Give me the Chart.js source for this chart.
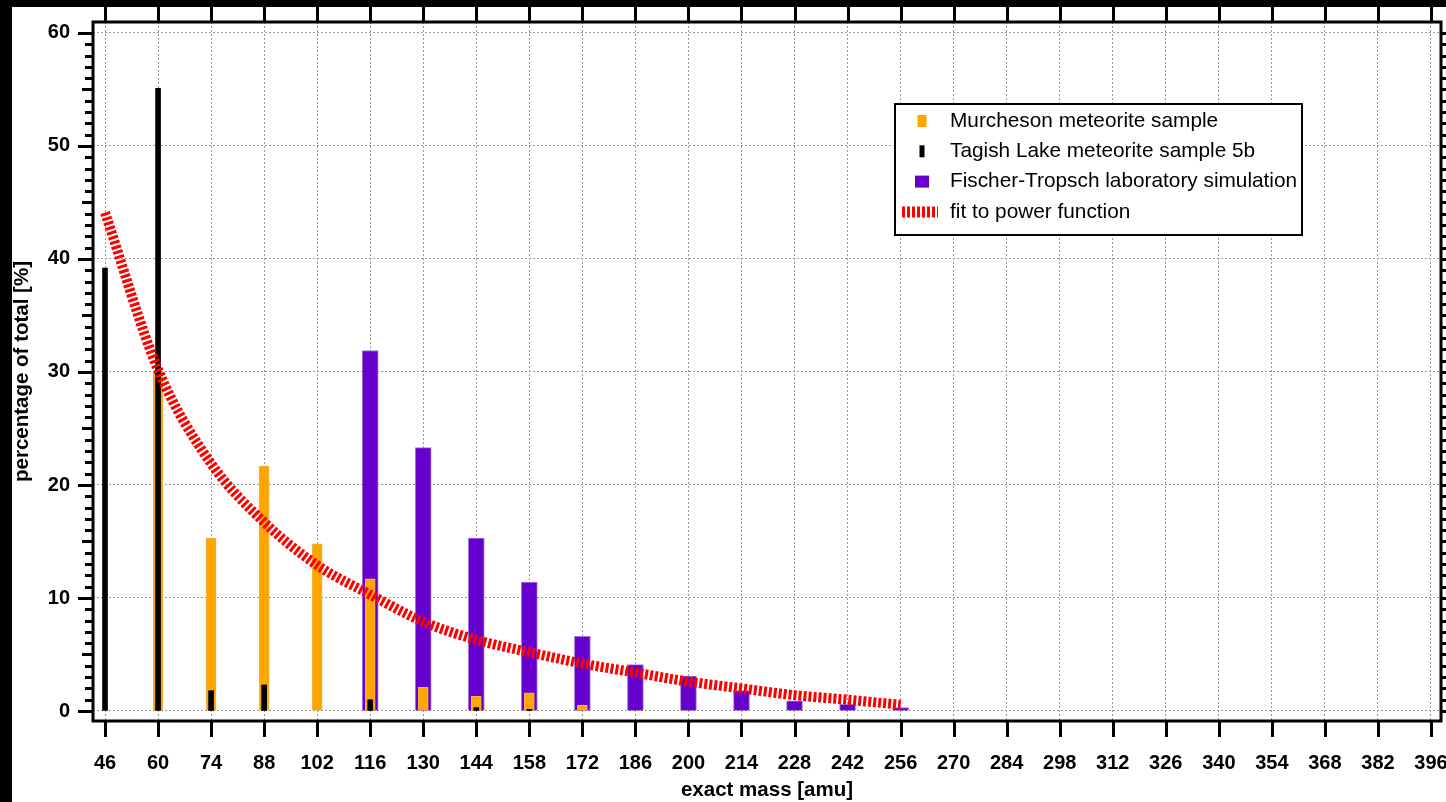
<!DOCTYPE html>
<html>
<head>
<meta charset="utf-8">
<script src="https://cdn.jsdelivr.net/npm/chart.js@4.4.1/dist/chart.umd.min.js"></script>
<style>
  html, body { margin: 0; padding: 0; background: #000; overflow: hidden; }
  #wrap { position: absolute; left: 12px; top: 7px; width: 1434px; height: 795px; background: #fff; }
</style>
</head>
<body>
<div id="wrap"><canvas id="mass-chart-canvas"></canvas></div>
<script>
// tick labels on the mass axis
const massTicks = [46, 60, 74, 88, 102, 116, 130, 144, 158, 172, 186, 200, 214, 228,
  242, 256, 270, 284, 298, 312, 326, 340, 354, 368, 382, 396];
const percentTicks = [0, 10, 20, 30, 40, 50, 60];

// categories (exact mass) that carry data
const masses = [46, 60, 74, 88, 102, 116, 130, 144, 158, 172, 186, 200, 214, 228, 242, 256];

const murchesonValues = [null, 30.0, 15.3, 21.7, 14.8, 11.7, 2.1, 1.3, 1.6, 0.5, null, null, null, null, null, null];
const tagishValues = [39.2, 55.1, 1.8, 2.3, null, 1.0, null, 0.3, 0.15, null, null, null, null, null, null, null];
const fischerValues = [null, null, null, null, null, 31.9, 23.3, 15.3, 11.4, 6.6, 4.1, 3.1, 1.8, 0.9, 0.6, 0.3];
const fitValues = [44.1, 30.2, 21.9, 16.7, 12.9, 10.3, 7.9, 6.3, 5.2, 4.2, 3.4, 2.6, 2.0, 1.4, 1.0, 0.55];

document.addEventListener("DOMContentLoaded", main);

function main() {
  drawMassChart();
}

function toPoints(values) {
  return masses.map((m, i) => ({ x: m, y: values[i] }));
}

// frame, tick marks on all four sides and the boxed legend
const frameAndLegend = {
  id: "frameAndLegend",
  afterDraw(chart) {
    const ctx = chart.ctx;
    const area = chart.chartArea;
    const xs = chart.scales.x;
    const ys = chart.scales.y;
    ctx.save();
    ctx.strokeStyle = "#000";
    ctx.lineWidth = 3;
    ctx.beginPath();
    massTicks.forEach((v) => {
      const px = Math.round(xs.getPixelForValue(v)) + 0.5;
      ctx.moveTo(px, area.bottom);
      ctx.lineTo(px, area.bottom + 16);
      ctx.moveTo(px, area.top);
      ctx.lineTo(px, area.top - 16);
    });
    for (let v = 0; v <= 60; v++) {
      const py = Math.round(ys.getPixelForValue(v)) + 0.5;
      const len = v % 10 === 0 ? 15 : v % 5 === 0 ? 11 : 8;
      ctx.moveTo(area.left, py);
      ctx.lineTo(area.left - len, py);
      ctx.moveTo(area.right, py);
      ctx.lineTo(area.right + len, py);
    }
    ctx.stroke();
    ctx.strokeRect(area.left, area.top, area.right - area.left, area.bottom - area.top);

    // legend box
    const bx = 883, by = 97, bw = 407, bh = 131;
    ctx.fillStyle = "#fff";
    ctx.fillRect(bx, by, bw, bh);
    ctx.lineWidth = 2;
    ctx.strokeRect(bx, by, bw, bh);
    const markerWidths = [9, 5, 14];
    ctx.font = "20.8px Arial, 'Liberation Sans', sans-serif";
    ctx.textBaseline = "middle";
    chart.data.datasets.forEach((ds, i) => {
      const cy = by + 17 + i * 30.3;
      if (ds.type === "line") {
        ctx.strokeStyle = ds.borderColor;
        ctx.lineWidth = 11;
        ctx.setLineDash([3, 2]);
        ctx.beginPath();
        ctx.moveTo(890, cy);
        ctx.lineTo(926, cy);
        ctx.stroke();
        ctx.setLineDash([]);
      } else {
        const w = markerWidths[i];
        ctx.fillStyle = ds.backgroundColor;
        ctx.fillRect(910 - w / 2, cy - 6, w, 12);
      }
      ctx.fillStyle = "#000";
      ctx.fillText(ds.label, 938, cy);
    });
    ctx.restore();
  },
};

function noLabelPadding(scale) {
  scale.paddingTop = 0;
  scale.paddingBottom = 0;
  scale.paddingLeft = 0;
  scale.paddingRight = 0;
}

function drawMassChart() {
  const ctx = document.getElementById("mass-chart-canvas").getContext("2d");
  const axisFont = { family: "Arial, 'Liberation Sans', sans-serif", size: 20, weight: "bold" };
  const titleFont = { family: "Arial, 'Liberation Sans', sans-serif", size: 20.5, weight: "bold", lineHeight: 1 };

  new Chart(ctx, {
    type: "bar",
    data: {
      datasets: [
        {
          label: "Murcheson meteorite sample",
          data: toPoints(murchesonValues),
          backgroundColor: "#FFA500",
          borderColor: "#F2B24A",
          borderWidth: 1,
          barThickness: 10,
          grouped: false,
          order: 2,
        },
        {
          label: "Tagish Lake meteorite sample 5b",
          data: toPoints(tagishValues),
          backgroundColor: "#000000",
          barThickness: 5,
          grouped: false,
          order: 1,
        },
        {
          label: "Fischer-Tropsch laboratory simulation",
          data: toPoints(fischerValues),
          backgroundColor: "#6600CC",
          borderColor: "#A27BE0",
          borderWidth: 1,
          barThickness: 16,
          grouped: false,
          order: 3,
        },
        {
          type: "line",
          label: "fit to power function",
          data: toPoints(fitValues),
          borderColor: "#FF0000",
          borderWidth: 10,
          borderDash: [3, 2],
          borderCapStyle: "butt",
          pointRadius: 0,
          cubicInterpolationMode: "monotone",
          fill: false,
          order: 0,
        },
      ],
    },
    options: {
      responsive: true,
      maintainAspectRatio: false,
      animation: false,
      layout: { padding: { top: 15, right: 5, left: 0, bottom: 0 } },
      plugins: {
        legend: { display: false },
        tooltip: { enabled: false },
      },
      scales: {
        x: {
          type: "linear",
          offset: false,
          min: 42.83,
          max: 398.64,
          afterBuildTicks: (scale) => {
            scale.ticks = massTicks.map((v) => ({ value: v }));
          },
          afterFit: (scale) => {
            scale.height = 81;
            noLabelPadding(scale);
          },
          grid: { color: "#9a9a9a", lineWidth: 1, drawTicks: false, offset: false },
          border: { display: false, dash: [2, 2] },
          ticks: { color: "#000", font: axisFont, padding: 30, autoSkip: false, maxRotation: 0 },
          title: {
            display: true,
            text: "exact mass [amu]",
            color: "#000",
            font: titleFont,
            padding: { top: 0, bottom: 1.5 },
          },
        },
        y: {
          min: -0.885,
          max: 60.97,
          afterBuildTicks: (scale) => {
            scale.ticks = percentTicks.map((v) => ({ value: v }));
          },
          afterFit: (scale) => {
            scale.width = 81;
            noLabelPadding(scale);
          },
          grid: { color: "#9a9a9a", lineWidth: 1, drawTicks: false },
          border: { display: false, dash: [2, 2] },
          ticks: { color: "#000", font: axisFont, padding: 23 },
          title: {
            display: true,
            text: "percentage of total [%]",
            color: "#000",
            font: titleFont,
            padding: { top: 0, bottom: 0 },
          },
        },
      },
    },
    plugins: [frameAndLegend],
  });
}
</script>
</body>
</html>
